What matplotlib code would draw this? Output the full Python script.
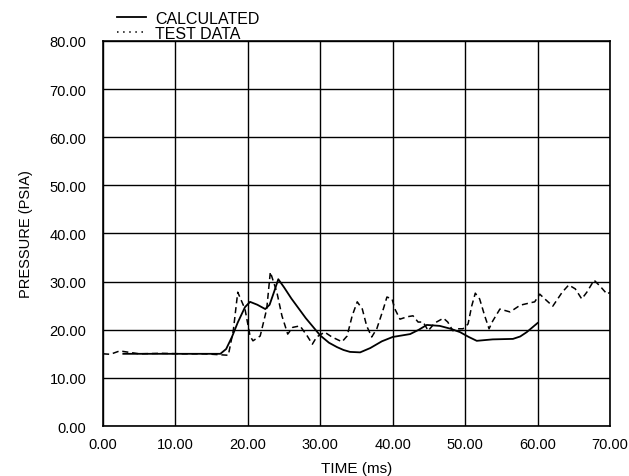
import numpy as np
import matplotlib.pyplot as plt

# Calculated pressure trace (solid)
calc_t = [2.8, 6.0, 10.0, 14.0, 16.2, 17.0, 17.8, 18.6, 19.6, 20.3, 21.3, 22.4, 23.0,
          23.6, 24.2, 25.0, 26.0, 28.0, 30.0, 31.2, 32.3, 33.2, 34.1, 35.5, 36.9,
          38.5, 40.0, 42.4, 43.6, 44.7, 46.5, 48.0, 49.3, 50.5, 51.6, 53.8, 56.6,
          57.6, 58.5, 60.0]
calc_p = [15.0, 15.0, 15.0, 15.0, 15.0, 16.0, 18.5, 21.5, 24.7, 25.8, 25.2, 24.3, 25.2,
          27.8, 30.5, 28.8, 26.5, 22.4, 18.8, 17.3, 16.4, 15.8, 15.4, 15.3, 16.2,
          17.6, 18.5, 19.1, 20.0, 21.0, 20.8, 20.2, 19.5, 18.5, 17.7, 18.0, 18.1,
          18.6, 19.5, 21.4]

# Measured pressure trace (dashed)
test_t = [0.0, 1.0, 2.3, 5.0, 8.0, 11.0, 14.0, 17.3, 18.0, 18.6, 19.6, 20.3,
          20.7, 21.7, 22.6, 23.1, 24.0, 24.7, 25.5, 26.2, 27.2, 28.2, 28.9,
          29.5, 30.6, 31.6, 33.0, 33.7, 34.4, 35.1, 35.8, 36.4, 37.1, 37.8,
          38.7, 39.2, 39.9, 40.3, 41.0, 42.0, 42.8, 43.5, 44.2, 44.9, 45.8,
          47.0, 47.6, 48.3, 49.0, 49.7, 50.4, 50.9, 51.4, 52.0, 52.7, 53.3,
          53.8, 54.8, 56.2, 57.6, 59.0, 59.6, 60.3, 61.0, 62.1, 63.4, 64.3,
          65.2, 66.1, 66.8, 67.8, 68.6, 69.6, 70.0]
test_p = [15.0, 14.9, 15.6, 15.0, 15.1, 15.0, 15.0, 14.7, 20.0, 27.8, 24.3, 18.7,
          17.7, 18.7, 24.3, 32.0, 27.8, 22.9, 19.1, 20.5, 20.8, 18.7, 17.0,
          18.5, 19.5, 18.5, 17.5, 18.7, 22.9, 25.8, 24.3, 20.8, 18.5, 20.2,
          24.3, 26.8, 26.4, 24.3, 22.2, 22.7, 22.9, 21.6, 21.6, 19.8, 21.4,
          22.4, 21.6, 19.8, 20.2, 20.2, 21.2, 24.9, 27.6, 26.4, 22.9, 20.2,
          21.8, 24.3, 23.7, 25.1, 25.6, 25.8, 27.4, 26.4, 24.9, 27.8, 29.3,
          28.5, 26.4, 27.8, 30.3, 29.1, 27.4, 27.8]

x_ticks = np.arange(0, 71, 10)
y_ticks = np.arange(0, 81, 10)

plt.rcParams['font.family'] = ['Liberation Sans', 'DejaVu Sans']

fig = plt.figure(figsize=(6.29, 4.77), dpi=100)
ax = fig.add_axes([0.1638, 0.1048, 0.806, 0.8072])

ax.plot(calc_t, calc_p, '-', color='black', lw=1.3, label='CALCULATED')
ax.plot(test_t, test_p, '--', color='black', lw=1.1, dashes=(4, 2.5), label='TEST DATA')

ax.set_xlim(0, 70)
ax.set_ylim(0, 80)
ax.set_xticks(x_ticks)
ax.set_yticks(y_ticks)
ax.set_xticklabels([f'{v:.2f}' for v in x_ticks])
ax.set_yticklabels([f'{v:.2f}' for v in y_ticks])
ax.tick_params(length=0, labelsize=10.5)
ax.tick_params(axis='x', pad=8)
ax.tick_params(axis='y', pad=12)
ax.grid(True, color='black', lw=1.0)
for s in ax.spines.values():
    s.set_linewidth(1.2)

ax.set_xlabel('TIME (ms)', fontsize=11, labelpad=7)
ax.set_ylabel('PRESSURE (PSIA)', fontsize=10.5, labelpad=12)

# legend sits above the plot area, top left
leg = ax.legend(loc='lower left', bbox_to_anchor=(0.012, 0.98), frameon=False,
                fontsize=11.5, handlelength=1.8, handletextpad=0.6,
                labelspacing=0.0, borderpad=0)
leg.get_lines()[1].set_linestyle((0, (1, 3)))

fig.savefig('out.png', dpi=100)
